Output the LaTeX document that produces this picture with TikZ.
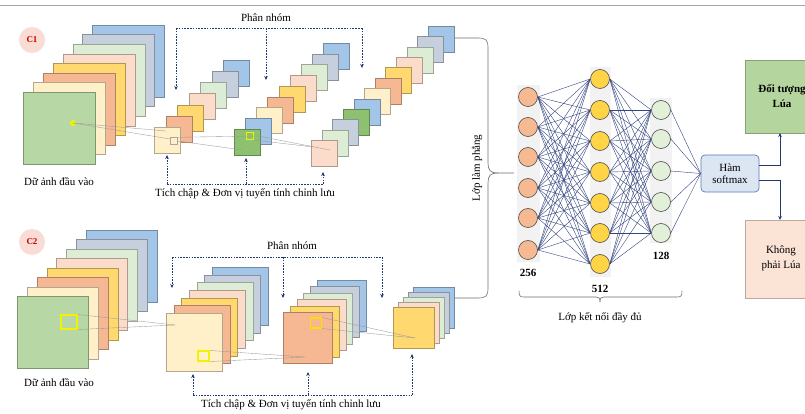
\documentclass[tikz,border=0pt]{standalone}
\usepackage{fontspec}
\setmainfont{Liberation Serif}
\usetikzlibrary{arrows.meta,shadows}
\pgfdeclarelayer{bg}
\pgfdeclarelayer{edges}
\pgfsetlayers{bg,edges,main}
\definecolor{cgreen}{HTML}{B7D7A5}
\definecolor{cgreenD}{HTML}{8DC170}
\definecolor{ccream}{HTML}{FFF0C9}
\definecolor{csalmon}{HTML}{F5B893}
\definecolor{cyellow}{HTML}{FFD970}
\definecolor{cpeach}{HTML}{FBDCCA}
\definecolor{clgreen}{HTML}{DDEDD5}
\definecolor{cgray}{HTML}{C6CFDD}
\definecolor{cblue}{HTML}{A3C5E8}
\definecolor{navy}{HTML}{1F3A6E}
\definecolor{edgec}{HTML}{34457F}
\definecolor{nnsalmon}{HTML}{F6B992}
\definecolor{nnyellow}{HTML}{FFD447}
\definecolor{nngreen}{HTML}{E3F0D9}
\definecolor{circfill}{HTML}{F9DCD3}
\definecolor{smfill}{HTML}{DCE6F3}
\definecolor{smdraw}{HTML}{5B7BB0}
\definecolor{boxgreen}{HTML}{B4D69E}
\definecolor{boxpink}{HTML}{FBE3D5}
\definecolor{hilite}{HTML}{F2F200}
\newcommand\mystack[9]{%
  \foreach \c [count=\i from 0] in {#8} {%
    \node[sq=\c, minimum width=#5pt, minimum height=#6pt, anchor=north west, name=#9\i]
      at ({#1+(#7-1-\i)*#3},{#2+(#7-1-\i)*#4}) {};
  }%
}
\begin{document}
\begin{tikzpicture}[x=1pt,y=-1pt,
  sq/.style={fill=#1, draw=#1!70!black, line width=0.4pt, inner sep=0pt,
    drop shadow={opacity=0.18, shadow xshift=0.8pt, shadow yshift=-0.8pt}},
  lbl/.style={font=\fontsize{11}{13}\selectfont, inner sep=1pt},
  ann/.style={navy, line width=0.6pt, dash pattern=on 1.6pt off 1.2pt},
  annarr/.style={ann, -{Stealth[length=4pt,width=3.5pt]}},
  thin/.style={gray!80, line width=0.35pt},
  hbox/.style={draw=hilite, line width=1.1pt, inner sep=0pt},
  cbadge/.style={circle, fill=circfill, minimum size=26pt, inner sep=0pt, text=red!80!black, font=\bfseries\fontsize{9}{10}\selectfont},
  nn/.style={circle, draw=black!70, line width=0.6pt, minimum size=19pt, inner sep=0pt},
  nnedge/.style={edgec, line width=0.4pt},
  numl/.style={font=\bfseries\fontsize{11}{13}\selectfont, inner sep=0pt},
  brace/.style={gray!85!black, line width=0.6pt},
  outarr/.style={navy, line width=0.7pt, -{Stealth[length=4pt,width=3.5pt]}}
]
\useasboundingbox (0,0) rectangle (805,414);
\clip (0,0) rectangle (805,414);
\begin{pgfonlayer}{bg}
\fill[white] (0,0) rectangle (805,414);
\end{pgfonlayer}
\draw[gray!70, line width=1pt] (0,6) -- (805,6);

% ---------- C1 ----------
\node[cbadge] (c1) at (32,40) {C1};
\mystack{23}{92}{9.9}{-9.6}{72}{72}{8}{cblue,cgray,clgreen,cpeach,cyellow,csalmon,ccream,cgreen}{ain}
\mystack{154}{127}{11.5}{-11.17}{26}{26}{7}{cblue,cgray,clgreen,cpeach,cyellow,csalmon,ccream}{bg}
\mystack{234}{129}{11.125}{-10.75}{26}{26}{9}{cblue,cgray,clgreen,cpeach,cyellow,csalmon,ccream,cblue,cgreenD}{cg}
\mystack{311}{140}{10.64}{-10.36}{26}{26}{12}{cblue,cgray,clgreen,cpeach,cyellow,csalmon,ccream,cblue,cgreenD,cgray,clgreen,cpeach}{dg}

\fill[hilite] (73,123) circle (3);
\coordinate (d1) at (73,123);
\coordinate (b1a) at (166,131);
\coordinate (b1b) at (170,139);
\draw[thin] (d1) -- (b1a);
\draw[thin] (d1) -- (b1b);
\node[draw=gray!70, line width=0.4pt, minimum size=7pt, inner sep=0pt] (k1) at (173.5,141) {};
\node[hbox, minimum size=7pt] (k2) at (250,136) {};
\coordinate (g1a) at (243,150);
\coordinate (g1b) at (258,136);
\coordinate (p1a) at (330,150);
\coordinate (p1b) at (313,147);
\draw[thin] (k1.east) -- (g1a);
\draw[thin] (k1.north east) -- (g1b);
\draw[thin] (g1b) -- (p1a);
\draw[thin] (k2.south east) -- (p1b);

% annotations C1
\node[lbl] (pn1) at (266,18) {Phân nhóm};
\coordinate (t1a) at (176,28); \coordinate (t1b) at (266,28); \coordinate (t1c) at (362,28);
\draw[ann] (t1a) -- (t1c);
\draw[annarr] (t1a) -- (176,90);
\draw[annarr] (t1b) -- (266,80);
\draw[annarr] (t1c) -- (362,68);
\node[lbl] (tc1) at (245,194) {Tích chập \& Đơn vị tuyến tính chỉnh lưu};
\coordinate (u1a) at (167,184); \coordinate (u1b) at (246,184); \coordinate (u1c) at (323,184);
\draw[ann] (u1a) -- (u1c);
\draw[annarr] (u1a) -- (167,155);
\draw[annarr] (u1b) -- (246,158);
\draw[annarr] (u1c) -- (323,172);
\node[lbl] (in1) at (59,182) {Dữ ảnh đầu vào};

% ---------- C2 ----------
\node[cbadge] (c2) at (32,242) {C2};
\mystack{17}{296}{9.86}{-9.43}{71}{72}{8}{cblue,cgray,clgreen,cpeach,cyellow,csalmon,ccream,cgreen}{ein}
\mystack{166}{313}{7.67}{-7.67}{56}{58}{7}{cblue,cgray,clgreen,cpeach,cyellow,csalmon,ccream}{fg}
\mystack{283}{312}{6.8}{-6.4}{49}{51}{6}{cblue,cgray,clgreen,cpeach,cyellow,csalmon}{gg}
\mystack{393}{307}{5}{-5}{41}{41}{5}{cblue,cgray,clgreen,cpeach,cyellow}{hg}

\node[hbox, minimum width=16pt, minimum height=14pt] (y1) at (69,322) {};
\coordinate (f2) at (175,325);
\draw[thin] (y1.north east) -- (f2);
\draw[thin] (y1.south east) -- (f2);
\node[hbox, minimum width=11pt, minimum height=10pt] (y2) at (203.5,356) {};
\coordinate (g2) at (305,357);
\draw[thin] (y2.north east) -- (g2);
\draw[thin] (y2.south east) -- (g2);
\node[hbox, draw=yellow!80!orange, minimum width=11pt, minimum height=10pt] (y3) at (316,323) {};
\coordinate (h2) at (415,338);
\draw[thin] (y3.north east) -- (h2);
\draw[thin] (y3.south east) -- (h2);

\node[lbl] (pn2) at (292,246) {Phân nhóm};
\coordinate (t2a) at (172,257); \coordinate (t2b) at (283,257); \coordinate (t2c) at (382,257);
\draw[ann] (t2a) -- (t2c);
\draw[annarr] (t2a) -- (172,288);
\draw[annarr] (t2b) -- (283,298);
\draw[annarr] (t2c) -- (382,298);
\node[lbl] (tc2) at (291,405) {Tích chập \& Đơn vị tuyến tính chỉnh lưu};
\coordinate (u2a) at (193,395); \coordinate (u2b) at (308,395); \coordinate (u2c) at (412,395);
\draw[ann] (u2a) -- (u2c);
\draw[annarr] (u2a) -- (193,374);
\draw[annarr] (u2b) -- (308,372);
\draw[annarr] (u2c) -- (412,354);
\node[lbl] (in2) at (59,383) {Dữ ảnh đầu vào};

% ---------- flatten brace ----------
\coordinate (bt) at (455,38);
\coordinate (bb) at (455,298);
\coordinate (tip) at (514,173);
\draw[brace] (bt) -- (478,38) .. controls (486,38) and (488,40) .. (488,48)
  -- (488,163) .. controls (488,170) and (490,173) .. (498,173) -- (tip);
\draw[brace] (498,173) .. controls (490,173) and (488,176) .. (488,183)
  -- (488,288) .. controls (488,296) and (486,298) .. (478,298) -- (bb);
\node[lbl, rotate=90] (flat) at (477,168) {Lớp làm phẳng};

% ---------- NN ----------
\begin{pgfonlayer}{bg}
\fill[black!5] (517,85) rectangle (540,262);
\fill[black!5] (590,67) rectangle (611,277);
\fill[black!5] (650,98) rectangle (672,243);
\end{pgfonlayer}
\foreach \y [count=\i] in {97,127,157,188,218,250}
  \node[nn, fill=nnsalmon] (a\i) at (528,\y) {};
\foreach \y [count=\i] in {79,110,141,172,203,233,264}
  \node[nn, fill=nnyellow] (b\i) at (600,\y) {};
\foreach \y [count=\i] in {110,139,171,202,233}
  \node[nn, fill=nngreen] (g\i) at (661,\y) {};
\begin{pgfonlayer}{edges}
\foreach \i in {1,...,6}
  \foreach \j in {1,...,7}
    \draw[nnedge] (a\i.east) -- (b\j.west);
\foreach \i in {1,...,7}
  \foreach \j in {1,...,5}
    \draw[nnedge] (b\i.east) -- (g\j.west);
\end{pgfonlayer}
\node[numl] (n256) at (528,273) {256};
\node[numl] (n512) at (600,289) {512};
\node[numl] (n128) at (661,256) {128};
\draw[brace] (519,291) .. controls (519,296) and (520,297) .. (524,297) -- (596,297)
  .. controls (599,297) and (600,298) .. (600,302);
\draw[brace] (600,302) .. controls (600,298) and (601,297) .. (604,297) -- (677,297)
  .. controls (681,297) and (682,296) .. (682,291);
\node[lbl] (fc) at (600,318) {Lớp kết nối đầy đủ};

% ---------- softmax & outputs ----------
\node[draw=smdraw, fill=smfill, rounded corners=4pt, line width=0.7pt, minimum width=58pt, minimum height=37pt, align=center, inner sep=1pt, font=\fontsize{11}{12.5}\selectfont] (sm) at (730,173.5) {Hàm\\softmax};
\begin{pgfonlayer}{edges}
\foreach \j in {1,...,5}
  \draw[nnedge] (g\j.east) -- (sm.west);
\end{pgfonlayer}
\node[draw=boxgreen!75!black, fill=boxgreen, line width=0.5pt, minimum width=70pt, minimum height=73pt, anchor=north west, inner sep=0pt,
  drop shadow={opacity=0.2, shadow xshift=1pt, shadow yshift=-1pt}] (yes) at (745,60) {};
\node[font=\bfseries\fontsize{11}{15}\selectfont, align=center] (yest) at (782,96) {Đối tượng\\Lúa};
\node[draw=boxpink!75!black, fill=boxpink, line width=0.5pt, minimum width=70pt, minimum height=78pt, anchor=north west, inner sep=0pt,
  drop shadow={opacity=0.2, shadow xshift=1pt, shadow yshift=-1pt}] (no) at (745,220) {};
\node[lbl, align=center, font=\fontsize{11}{15}\selectfont] (not) at (781,258) {Không\\phải Lúa};
\coordinate (s1) at (759,165);
\coordinate (s2) at (759,180);
\draw[outarr] (s1) -- (780,165) -- (780,133);
\draw[outarr] (s2) -- (780,180) -- (780,220);
\end{tikzpicture}
\end{document}
